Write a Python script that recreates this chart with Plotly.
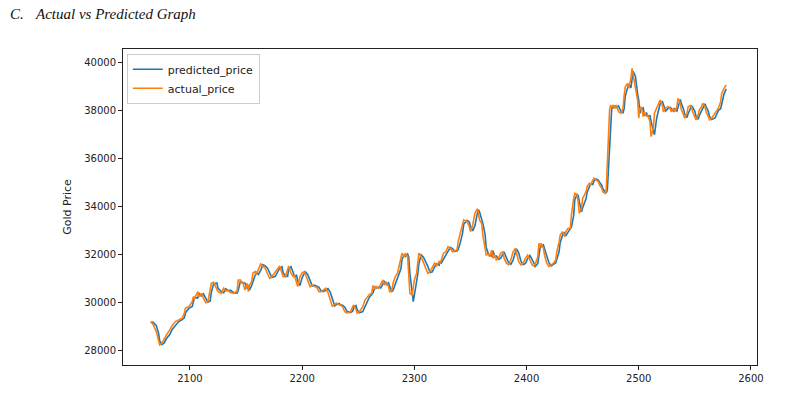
import plotly.graph_objects as go

x_index = [
    2065, 2067, 2070, 2072, 2073, 2075, 2077, 2079, 2082, 2084, 2087, 2090, 2093, 2095, 2096, 2099, 2102, 2103, 2104, 2107,
    2108, 2110, 2112, 2114, 2116, 2118, 2119, 2121, 2124, 2125, 2128, 2130, 2132, 2134, 2136, 2139, 2142, 2143,
    2145, 2146, 2147, 2149, 2151, 2152, 2153, 2155, 2156, 2158, 2159, 2161, 2163, 2165, 2167, 2169, 2171, 2173, 2176, 2178,
    2180, 2182, 2183, 2185, 2187, 2188, 2190, 2192, 2193, 2195, 2196, 2198, 2200, 2202, 2203, 2205, 2207, 2209, 2211, 2213,
    2215, 2217, 2219, 2221, 2223, 2225, 2227, 2229, 2231, 2233,
    2234, 2236, 2238, 2240, 2243, 2245, 2246, 2248, 2249, 2251, 2254, 2256, 2258, 2260, 2262, 2263, 2265, 2266, 2268, 2270,
    2272, 2273, 2275, 2277, 2278, 2280, 2281, 2283, 2285, 2286, 2288, 2289, 2291, 2292, 2294, 2295, 2296, 2298, 2299, 2300,
    2302, 2303, 2304, 2306, 2308, 2310, 2312, 2314, 2316, 2318, 2320, 2322,
    2323, 2324, 2326, 2328, 2330, 2332, 2334, 2336, 2338, 2339, 2341, 2343, 2344, 2347, 2349, 2350, 2352, 2354, 2356, 2357,
    2358, 2360, 2361, 2363, 2364, 2366, 2367, 2369, 2370, 2372, 2373, 2375, 2377, 2379, 2380, 2382, 2384, 2386, 2388, 2390,
    2391, 2393, 2395, 2397, 2399, 2401, 2403, 2405, 2407, 2408, 2410, 2411,
    2412, 2413, 2415, 2416, 2418, 2420, 2422, 2424, 2426, 2427, 2429, 2430, 2432, 2434, 2435, 2437, 2439, 2440, 2442, 2443,
    2445, 2446, 2447, 2449, 2450, 2453, 2454, 2456, 2457, 2459, 2460, 2462, 2464, 2465, 2467, 2468, 2470, 2471, 2472, 2473,
    2474, 2475, 2476, 2477, 2479, 2480, 2482, 2484, 2486, 2487, 2488, 2490, 2491, 2493, 2494, 2495, 2497, 2498, 2499, 2500,
    2501, 2502, 2504, 2505, 2507, 2508, 2510, 2511, 2513, 2514, 2516, 2518, 2519, 2521, 2522, 2524, 2526, 2528, 2529, 2531,
    2532, 2534, 2535, 2537, 2538, 2540, 2541, 2543, 2544, 2546, 2547, 2548, 2550, 2551, 2553, 2554, 2556, 2557, 2559, 2560,
    2562, 2563, 2565, 2568, 2570, 2571, 2573, 2574, 2576, 2578,
]

predicted_price = [
    29150, 29170, 29020, 28700, 28380, 28230, 28300, 28480, 28650, 28850, 29030, 29190, 29270, 29350, 29560, 29740, 29820, 30020, 30190, 30180,
    30390, 30260, 30350, 30170, 30000, 30050, 30400, 30760, 30800, 30580, 30440, 30400, 30560, 30470, 30500, 30400, 30380, 30500,
    30880, 30850, 30800, 30800, 30560, 30720, 30500, 30700, 30850, 31180, 31250, 31160, 31330, 31570, 31520, 31430, 31230, 31030, 31080, 31260,
    31420, 31480, 31240, 31090, 31080, 31380, 31480, 31240, 31090, 31120, 30880, 30700, 31030, 31210, 31260, 31150, 30880, 30680, 30710, 30660,
    30620, 30460, 30450, 30500, 30570, 30420, 30130, 29850, 29910, 29950,
    29890, 29870, 29790, 29620, 29560, 29620, 29790, 29860, 29690, 29560, 29610, 29800, 30060, 30220, 30320, 30380, 30640, 30590, 30630, 30590,
    30760, 30890, 30740, 30810, 30660, 30450, 30500, 30760, 31030, 31190, 31400, 31790, 31990, 31910, 32010, 31880, 31200, 30450, 30020, 30300,
    30850, 31150, 31600, 31980, 31890, 31700, 31500, 31240, 31270, 31470, 31600, 31540,
    31680, 31640, 31800, 32020, 32120, 32290, 32240, 32120, 32140, 32200, 32500, 32900, 33260, 33420, 33350, 33170, 32980, 33200, 33680, 33870,
    33790, 33470, 33300, 32850, 32300, 32010, 31990, 31920, 32150, 31860, 31950, 31790, 31840, 32030, 32100, 31860, 31650, 31580, 31760, 32080,
    32230, 32060, 31720, 31570, 31620, 31820, 31950, 31780, 31580, 31500, 31620, 31880,
    32250, 32330, 32400, 32230, 31960, 31640, 31520, 31570, 31650, 31800, 32120, 32500, 32790, 32920, 32770, 32930, 33070, 33150, 33620, 34280,
    34500, 34450, 34200, 33780, 33950, 34320, 34600, 34800, 34940, 34920, 35060, 35150, 35100, 35020, 34890, 34740, 34610, 34560, 34700, 35600,
    36800, 37850, 38180, 38120, 38200, 38130, 38200, 37980, 37920, 38100, 38620, 38960, 39120, 38960, 39320, 39650, 39450, 38980, 38700, 38450,
    37900, 38050, 38120, 37800, 37900, 37780, 37800, 37550, 37150, 37000, 37700, 38080, 38280, 38400, 38230, 37990, 38090, 38150, 38100, 37980,
    38080, 37990, 38150, 38480, 38300, 38060, 37850, 37720, 37880, 38130, 38200, 38160, 37980, 37780, 37650, 37810, 38010, 38150, 38290, 38180,
    37980, 37780, 37640, 37700, 37880, 38020, 38090, 38350, 38700, 38920,
]

actual_price = [
    29190, 29080, 28770, 28330, 28210, 28280, 28490, 28630, 28840, 29020, 29190, 29260, 29330, 29540, 29750, 29810, 30020, 30230, 30160, 30440,
    30230, 30370, 30160, 29980, 30020, 30440, 30790, 30830, 30580, 30440, 30370, 30580, 30470, 30510, 30400, 30370, 30470, 30930,
    30930, 30790, 30860, 30510, 30790, 30440, 30720, 30860, 31210, 31280, 31140, 31350, 31600, 31510, 31420, 31210, 31000, 31070, 31280, 31420,
    31510, 31210, 31070, 31070, 31420, 31510, 31210, 31070, 31140, 30860, 30650, 31070, 31230, 31280, 31140, 30860, 30650, 30720, 30650, 30620,
    30440, 30440, 30510, 30580, 30400, 30090, 29810, 29930, 29960, 29880,
    29880, 29810, 29600, 29540, 29600, 29810, 29880, 29680, 29540, 29600, 29810, 30090, 30230, 30330, 30370, 30690, 30580, 30650, 30580, 30790,
    30930, 30720, 30830, 30650, 30420, 30510, 30790, 31070, 31210, 31420, 31840, 32050, 31900, 32050, 31900, 31140, 30370, 30300, 30580, 30930,
    31210, 31690, 32050, 31900, 31690, 31490, 31210, 31280, 31490, 31630, 31530, 31690,
    31630, 31770, 32050, 32110, 32320, 32250, 32110, 32140, 32180, 32530, 32950, 33300, 33440, 33370, 33160, 32950, 33230, 33720, 33900, 33780,
    33440, 33300, 32810, 32250, 31970, 32000, 31900, 32180, 31840, 31970, 31770, 31840, 32050, 32110, 31840, 31630, 31560, 31770, 32110, 32250,
    32050, 31690, 31560, 31630, 31840, 31970, 31770, 31560, 31490, 31630, 31900, 32460,
    32320, 32460, 32250, 31970, 31630, 31490, 31560, 31630, 31770, 32110, 32530, 32810, 32950, 32740, 32950, 33090, 33090, 33650, 34340, 34550,
    34480, 34200, 33720, 33930, 34340, 34620, 34830, 34970, 34900, 35070, 35180, 35110, 35040, 34900, 34760, 34620, 34550, 34690, 35740, 36990,
    38040, 38240, 38110, 38240, 38110, 38240, 37960, 37900, 38110, 38660, 39010, 39150, 38940, 39360, 39780, 39500, 38940, 38660, 38450, 37690,
    38110, 38170, 37760, 37960, 37760, 37830, 37550, 36920, 37270, 37900, 38110, 38320, 38450, 38240, 37960, 38110, 38170, 38110, 37960, 38110,
    37960, 38170, 38520, 38320, 38040, 37830, 37690, 37900, 38170, 38220, 38170, 37960, 37760, 37620, 37830, 38040, 38170, 38320, 38170, 37960,
    37760, 37620, 37690, 37900, 38040, 38110, 38380, 38730, 38940, 39080,
]

x_ticks = [2100, 2200, 2300, 2400, 2500, 2600]
y_ticks = [28000, 30000, 32000, 34000, 36000, 38000, 40000]

W, H = 786, 394
L, T, R, B = 123, 49, 29, 29
PW, PH = W - L - R, H - T - B

fig = go.Figure()
fig.add_trace(go.Scatter(x=x_index, y=predicted_price, mode="lines", name="predicted_price",
                         line=dict(color="#1f77b4", width=1.6)))
fig.add_trace(go.Scatter(x=x_index, y=actual_price, mode="lines", name="actual_price",
                         line=dict(color="#ff7f0e", width=1.6)))

axis_common = dict(showgrid=False, zeroline=False, showline=True, linecolor="#222", linewidth=1,
                   mirror=True, ticks="outside", ticklen=4, tickcolor="#222", tickwidth=1,
                   tickfont=dict(family="DejaVu Sans", size=10, color="#222"))

title_y = 1 + (T - 14) / PH
fig.update_layout(
    width=W, height=H,
    margin=dict(l=L, r=R, t=T, b=B, autoexpand=False),
    paper_bgcolor="white", plot_bgcolor="white",
    showlegend=True,
    legend=dict(x=0.006, y=0.985, xanchor="left", yanchor="top",
                bgcolor="rgba(255,255,255,0.8)", bordercolor="#cccccc", borderwidth=1,
                font=dict(family="DejaVu Sans", size=11, color="#222"),
                tracegroupgap=0, itemwidth=30),
    xaxis=dict(range=[2040.3, 2605.4], tickvals=x_ticks, ticktext=[str(v) for v in x_ticks], **axis_common),
    yaxis=dict(range=[27374, 40585], tickvals=y_ticks, ticktext=[str(v) for v in y_ticks],
               title=dict(text="Gold Price", font=dict(family="DejaVu Sans", size=11, color="#222"), standoff=10),
               **axis_common),
    annotations=[
        dict(text="<i>C.</i>", xref="paper", yref="paper", x=(8 - L) / PW, y=title_y,
             xanchor="left", yanchor="middle", showarrow=False,
             font=dict(family="Liberation Serif", size=15, color="#111")),
        dict(text="<i>Actual vs Predicted Graph</i>", xref="paper", yref="paper", x=(33 - L) / PW, y=title_y,
             xanchor="left", yanchor="middle", showarrow=False,
             font=dict(family="Liberation Serif", size=15, color="#111")),
    ],
)

# remove the browser's default 8px body margin so the figure sits at the window's top-left corner
fig.write_html("out.html", config={"displayModeBar": False},
               post_script="document.body.style.margin='0';")
